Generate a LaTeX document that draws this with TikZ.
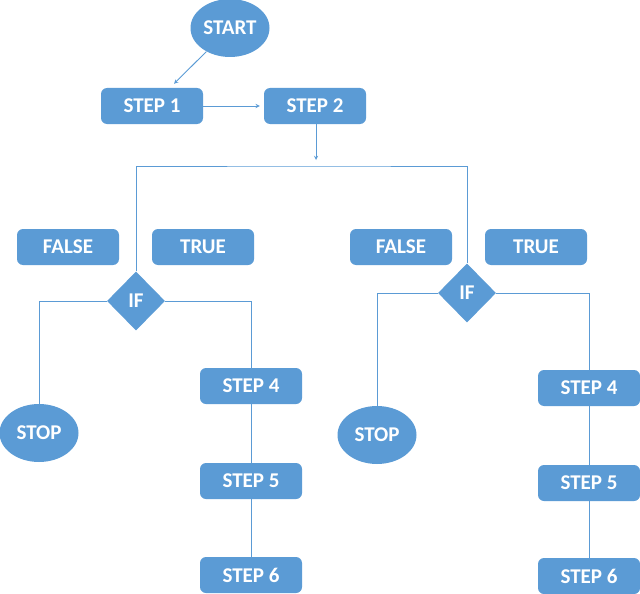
\documentclass[tikz,border=0pt]{standalone}
\usepackage{fontspec}
\setmainfont{Carlito}
\usetikzlibrary{shapes,arrows,positioning,calc}
\definecolor{flowblue}{RGB}{91,155,213}

\begin{document}
\begin{tikzpicture}[x=1pt, y=-1pt,
  block/.style={rectangle, fill=flowblue, rounded corners=6pt, align=center,
    minimum width=102pt, minimum height=36pt, text=white,
    font=\fontsize{21}{24}\selectfont\bfseries},
  term/.style={ellipse, fill=flowblue, inner sep=0pt, text=white,
    minimum width=79pt, minimum height=58pt,
    font=\fontsize{21}{24}\selectfont\bfseries},
  cond/.style={diamond, fill=flowblue, inner sep=0pt, text=white,
    minimum width=58pt, minimum height=59pt,
    font=\fontsize{21}{24}\selectfont\bfseries},
  link/.style={draw=flowblue, line width=0.9pt},
  arrow/.style={link, ->, >=stealth}]
  \useasboundingbox (0,0) rectangle (640,594);
  \node[term] (start) at (230,28) {START};
  \node[block] (step1) at (152,106) {STEP 1};
  \node[block] (step2) at (315,106) {STEP 2};
  \coordinate (split) at (316,166);
  % left branch
  \node[block] (falseL) at (68,247) {FALSE};
  \node[block] (trueL) at (203,247) {TRUE};
  \node[cond] (ifL) at (136,301) {IF};
  \node[term] (stopL) at (39,433) {STOP};
  \node[block] (step4L) at (251,386) {STEP 4};
  \node[block] (step5L) at (251,481) {STEP 5};
  \node[block] (step6L) at (251,575) {STEP 6};
  % right branch
  \node[block] (falseR) at (401,247) {FALSE};
  \node[block] (trueR) at (536,247) {TRUE};
  \node[cond] (ifR) at (467,293) {IF};
  \node[term] (stopR) at (377,435) {STOP};
  \node[block] (step4R) at (589,388) {STEP 4};
  \node[block] (step5R) at (589,483) {STEP 5};
  \node[block] (step6R) at (589,576) {STEP 6};
  \draw[arrow] (start) -- ([xshift=22pt,yshift=4pt]step1.north);
  \draw[arrow, shorten >=4pt] (step1) -- (step2);
  \draw[arrow, shorten >=6pt] (step2.south -| split) -- (split);
  \draw[link] (ifL.north) |- (split) -| (ifR.north);
  \draw[link] (ifL.west) -| (stopL.north);
  \draw[link] (ifL.east) -| (step4L.north);
  \draw[link] (step4L) -- (step5L);
  \draw[link] (step5L) -- (step6L);
  \draw[link] (ifR.west) -| (stopR.north);
  \draw[link] (ifR.east) -| (step4R.north);
  \draw[link] (step4R) -- (step5R);
  \draw[link] (step5R) -- (step6R);
\end{tikzpicture}
\end{document}
